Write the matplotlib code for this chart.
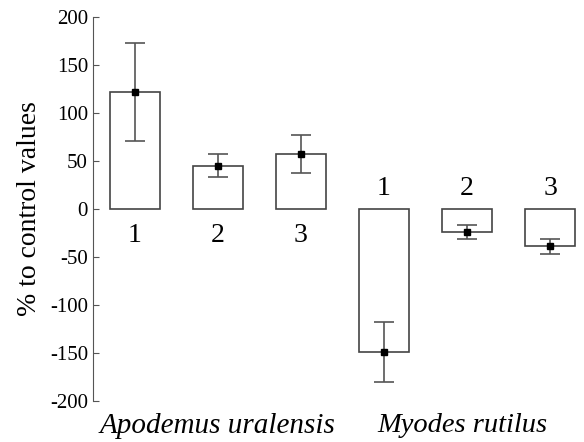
import matplotlib.pyplot as plt
import numpy as np

plt.rcParams['font.family'] = ['Liberation Serif', 'DejaVu Serif']
plt.rcParams['axes.unicode_minus'] = False

# data
groups = ["Apodemus uralensis", "Myodes rutilus"]
labels = ["1", "2", "3", "1", "2", "3"]
values = [122, 45, 57, -149, -24, -39]
errors = [51, 12, 20, 31, 7, 8]

x = np.arange(len(values))

fig = plt.figure(figsize=(5.84, 4.42), dpi=100)
ax = fig.add_axes([0.159, 0.0928, 0.834, 0.8687])

ax.bar(x, values, width=0.6, color="white", edgecolor="#444444", linewidth=1.2)
ax.errorbar(x, values, yerr=errors, fmt="s", color="black", markersize=4,
            ecolor="#555555", elinewidth=1.2, capsize=7, capthick=1.2)

# number labels: below the zero line for positive bars, above for negative
for xi, v, lab in zip(x, values, labels):
    ypos = -34 if v > 0 else 14.5
    ax.text(xi, ypos, lab, ha="center", va="baseline", fontsize=20)

ax.set_ylim(-200, 200)
ax.set_yticks(np.arange(-200, 201, 50))
ax.set_xlim(-0.506, 5.36)
ax.set_xticks([])
ax.tick_params(axis="y", direction="in", labelsize=15, color="#555555",
               length=4, pad=3.5)
for s in ["top", "right", "bottom"]:
    ax.spines[s].set_visible(False)
ax.spines["left"].set_color("#555555")
ax.set_ylabel("% to control values", fontsize=20, labelpad=6)

ax.text(1, -212, groups[0], ha="center", va="top", fontsize=21, style="italic")
ax.text(3.95, -212, groups[1], ha="center", va="top", fontsize=20.5, style="italic")

plt.savefig("out.png")
